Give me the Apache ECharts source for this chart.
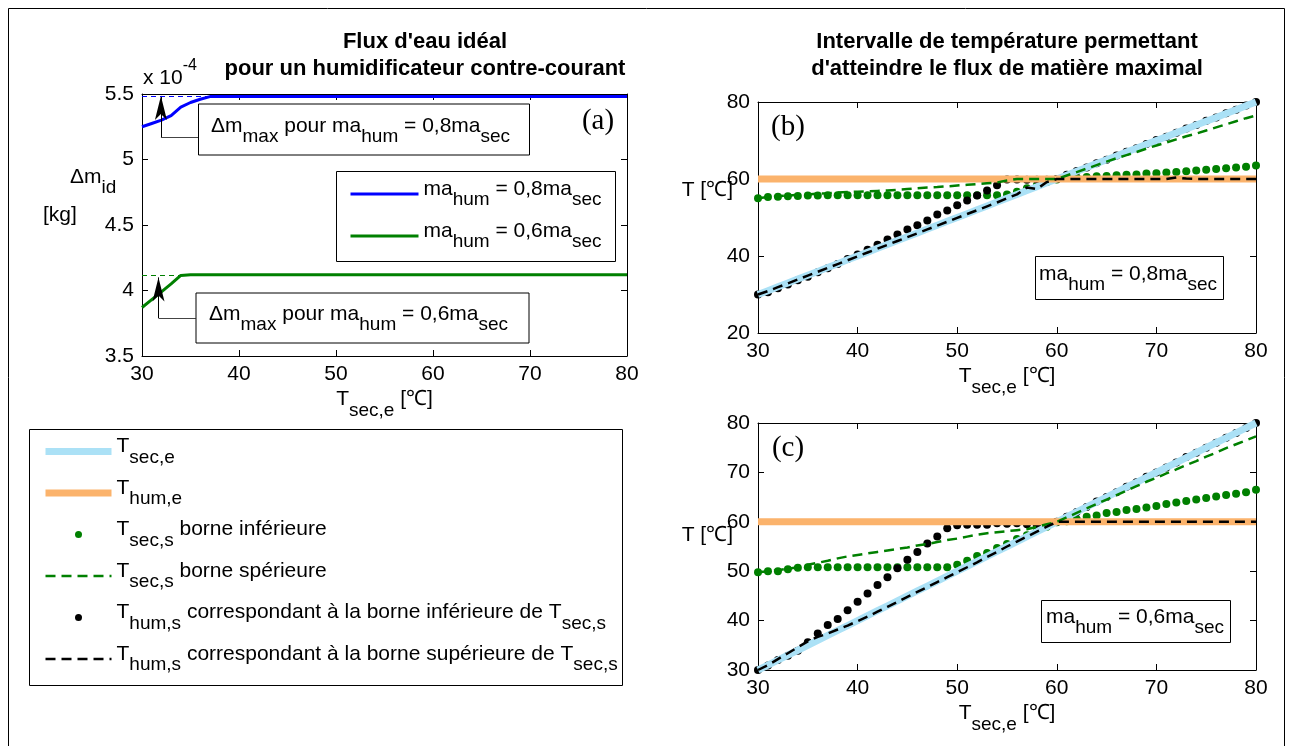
<!DOCTYPE html>
<html>
<head>
<meta charset="utf-8">
<script src="https://cdn.jsdelivr.net/npm/echarts/dist/echarts.min.js"></script>
<style>
html,body{margin:0;padding:0;background:#ffffff;}
#chart{width:1292px;height:746px;}
</style>
</head>
<body>
<div id="chart"></div>
<script>
// ================= DATA =================
// x variable for every panel: T_sec,e [°C]
const tSecE = [30,31,32,33,34,35,36,37,38,39,40,41,42,43,44,45,46,47,48,49,50,51,52,53,54,55,56,57,58,59,60,61,62,63,64,65,66,67,68,69,70,71,72,73,74,75,76,77,78,79,80];

// panel (a): ideal water flux  (x 1e-4 kg)
const dm08 = [5.250,5.275,5.300,5.335,5.400,5.435,5.460,5.480,5.480,5.480,
              5.480,5.480,5.480,5.480,5.480,5.480,5.480,5.480,5.480,5.480,
              5.480,5.480,5.480,5.480,5.480,5.480,5.480,5.480,5.480,5.480,
              5.480,5.480,5.480,5.480,5.480,5.480,5.480,5.480,5.480,5.480,
              5.480,5.480,5.480,5.480,5.480,5.480,5.480,5.480,5.480,5.480,
              5.480];
const dm06 = [3.870,3.930,3.990,4.050,4.115,4.120,4.120,4.120,4.120,4.120,
              4.120,4.120,4.120,4.120,4.120,4.120,4.120,4.120,4.120,4.120,
              4.120,4.120,4.120,4.120,4.120,4.120,4.120,4.120,4.120,4.120,
              4.120,4.120,4.120,4.120,4.120,4.120,4.120,4.120,4.120,4.120,
              4.120,4.120,4.120,4.120,4.120,4.120,4.120,4.120,4.120,4.120,
              4.120];
const dmMax08 = 5.48;
const dmMax06 = 4.12;

// T_hum,e constant
const tHumE = 60;

// panel (b): ma_hum = 0,8 ma_sec
const bSecOutLow  = [55.0,55.3,55.4,55.5,55.6,55.7,55.7,55.8,55.8,55.8,
                     55.8,55.8,55.8,55.8,55.8,55.8,55.8,55.8,55.8,55.8,
                     55.8,55.8,55.8,55.8,55.8,56.0,56.7,57.6,58.4,59.2,
                     59.9,60.3,60.4,60.5,60.7,60.8,61.0,61.1,61.2,61.4,
                     61.5,61.7,61.8,62.0,62.2,62.4,62.6,62.8,63.0,63.2,
                     63.5];
const bSecOutHigh = [55.0,55.3,55.5,55.7,55.9,56.0,56.2,56.3,56.5,56.6,
                     56.7,56.8,56.9,57.0,57.2,57.4,57.6,57.8,57.9,58.1,
                     58.3,58.5,58.7,58.9,59.1,59.6,60.0,60.0,60.0,60.0,
                     60.0,60.9,61.8,62.7,63.6,64.5,65.4,66.2,67.0,67.9,
                     68.7,69.5,70.3,71.1,71.8,72.6,73.4,74.2,75.0,75.8,
                     76.5];
const bHumOutLow  = [30.0,30.6,31.6,32.6,33.7,34.6,35.8,36.8,37.9,39.2,
                     40.4,41.6,42.9,44.3,45.6,46.9,48.0,49.2,50.8,51.8,
                     53.2,54.4,55.7,57.0,58.4,59.9,59.9,59.8,59.8,59.8,
                     60.0,61.1,62.1,63.0,64.1,65.0,66.1,67.1,68.0,69.1,
                     70.1,71.0,72.0,73.1,74.0,75.1,76.0,77.1,78.0,79.1,
                     80.0];
const bHumOutHigh = [30.0,30.9,31.9,32.9,33.9,34.9,35.9,36.9,37.9,38.9,
                     39.9,40.9,41.9,42.9,43.9,44.9,45.9,46.9,47.9,48.9,
                     49.9,50.9,51.9,52.9,53.9,55.0,56.0,57.8,57.4,59.2,
                     60.0,60.0,60.0,60.0,60.0,60.0,60.0,60.0,60.0,60.0,
                     60.0,60.0,60.4,60.1,60.0,60.0,60.0,60.0,60.0,60.0,
                     60.0];

// panel (c): ma_hum = 0,6 ma_sec
const cSecOutLow  = [49.8,50.0,50.0,50.4,50.7,50.8,50.8,50.8,50.8,50.8,
                     50.8,50.8,50.8,50.8,50.8,50.8,50.8,50.8,50.8,50.8,
                     51.3,52.1,53.1,53.7,54.7,55.5,56.5,57.3,58.3,59.0,
                     59.9,60.1,60.5,61.0,61.3,61.8,62.0,62.4,62.6,62.9,
                     63.2,63.6,63.9,64.2,64.5,64.8,65.1,65.4,65.7,66.0,
                     66.5];
const cSecOutHigh = [49.8,50.0,50.2,50.5,50.8,51.3,51.7,52.1,52.6,53.0,
                     53.3,53.6,53.9,54.2,54.5,54.8,55.2,55.5,55.9,56.3,
                     56.6,57.0,57.4,57.7,57.9,58.1,58.3,58.5,59.0,59.5,
                     60.0,60.9,61.8,62.7,63.6,64.5,65.4,66.3,67.2,68.1,
                     68.9,69.8,70.6,71.5,72.3,73.2,74.0,74.9,75.7,76.5,
                     77.3];
const cHumOutLow  = [30.0,30.9,32.0,32.9,33.9,35.6,37.4,39.1,40.3,42.1,
                     43.8,45.5,47.2,48.8,50.6,52.3,53.9,55.6,57.0,58.7,
                     59.3,59.4,59.4,59.4,59.7,59.6,59.7,59.5,59.3,59.2,
                     60.0,61.0,62.0,63.0,64.1,65.0,66.0,67.1,68.0,69.1,
                     70.0,71.0,72.0,73.1,74.0,75.0,76.0,77.0,78.0,79.0,
                     80.0];
const cHumOutHigh = [30.0,31.0,32.2,33.4,34.6,35.8,36.7,37.4,38.2,39.0,
                     39.9,40.8,41.8,42.8,43.8,44.8,45.8,46.8,47.8,48.8,
                     49.8,50.8,51.8,52.9,53.9,55.0,56.0,57.0,58.0,59.0,
                     60.0,60.0,60.0,60.0,60.0,60.0,60.0,60.0,60.0,60.0,
                     60.0,60.0,60.0,60.0,60.0,60.0,60.0,60.0,60.0,60.0,
                     60.0];

// ================= STYLE / LAYOUT =================
const FONT = '"Liberation Sans", Arial, Helvetica, sans-serif';
const SERIF = '"Liberation Serif", "Times New Roman", serif';
const C_LBLUE = '#ABE1F6', C_ORANGE = '#FBB36C', C_GREEN = '#008000', C_BLUE = '#0000FF';

const pairs = (xs, ys) => xs.map((x, i) => [x, Array.isArray(ys) ? ys[i] : ys]);

const RE = (m, s, P) => ({
  m: {fontSize: m, fontFamily: FONT, color: '#000', verticalAlign: 'bottom', padding: [0,0,P,0]},
  s: {fontSize: s, fontFamily: FONT, color: '#000', verticalAlign: 'bottom'}
});
const RZ = (m, s, P) => ({
  m: {fontSize: m, fontFamily: FONT, fill: '#000', verticalAlign: 'bottom', padding: [0,0,P,0]},
  s: {fontSize: s, fontFamily: FONT, fill: '#000', verticalAlign: 'bottom'},
  p: {fontSize: 16, fontFamily: FONT, fill: '#000', verticalAlign: 'top'},
  u: {fontSize: 21, fontFamily: FONT, fill: '#000', verticalAlign: 'bottom', padding: [10,0,0,0]}
});

function axis(gridIndex, position, min, max, interval, showLabel, extra) {
  return Object.assign({
    type: 'value', gridIndex, position, min, max, interval,
    axisLine: {show: true, onZero: false, lineStyle: {color: '#000', width: 1}},
    axisTick: {show: true, inside: true, length: 6, lineStyle: {color: '#000', width: 1}},
    axisLabel: {show: showLabel, color: '#000', fontSize: 21, fontFamily: FONT, margin: 8},
    splitLine: {show: false}
  }, extra || {});
}
const xName = {
  name: '{m|T}{s|sec,e}{m| [℃]}',
  nameLocation: 'middle', nameGap: 33,
  nameTextStyle: {rich: RE(21, 19, 10)}
};

// annotation arrows of panel (a), in data units
const ANN = {
  a08: {x: 31.95, y0: 5.17, yTip: 5.485, xBox: 35.8, refTo: 37},
  a06: {x: 31.7,  y0: 3.79, yTip: 4.10, xBox: 35.55, refTo: 34}
};
function annot(a, ref, color) {
  return {
    silent: true, symbol: ['none', 'none'], label: {show: false},
    emphasis: {disabled: true},
    lineStyle: {color: '#000', width: 1, type: 'solid'},
    data: [
      [{coord: [a.x, a.y0]}, {coord: [a.x, a.yTip], symbol: 'arrow', symbolSize: [9, 24]}],
      [{coord: [a.x, a.y0], lineStyle: {color: '#444', width: 1, type: 'solid'}}, {coord: [a.xBox, a.y0]}],
      [{coord: [30, ref], lineStyle: {color: color, width: 1, type: [5, 4]}}, {coord: [a.refTo, ref]}]
    ]
  };
}

function panelSeries(k, secLow, secHigh, humLow, humHigh) {
  const xi = 2 * k, yi = 2 * k;
  const base = {xAxisIndex: xi, yAxisIndex: yi, emphasis: {disabled: true}, silent: true};
  return [
    Object.assign({name: 'Tsec,e', type: 'line', data: pairs(tSecE, tSecE), symbol: 'none',
      lineStyle: {color: C_LBLUE, width: 7}, itemStyle: {color: C_LBLUE}}, base),
    Object.assign({name: 'Thum,e', type: 'line', data: pairs(tSecE, tHumE), symbol: 'none',
      lineStyle: {color: C_ORANGE, width: 7}, itemStyle: {color: C_ORANGE}}, base),
    Object.assign({name: 'TsecLow', type: 'scatter', data: pairs(tSecE, secLow), symbol: 'circle',
      symbolSize: 8, itemStyle: {color: C_GREEN, opacity: 1}}, base),
    Object.assign({name: 'TsecHigh', type: 'line', data: pairs(tSecE, secHigh), symbol: 'none',
      lineStyle: {color: C_GREEN, width: 2.5, type: [10, 6]}, itemStyle: {color: C_GREEN}}, base),
    Object.assign({name: 'ThumLow', type: 'scatter', data: pairs(tSecE, humLow), symbol: 'circle',
      symbolSize: 8, itemStyle: {color: '#000', opacity: 1}}, base),
    Object.assign({name: 'ThumHigh', type: 'line', data: pairs(tSecE, humHigh), symbol: 'none',
      lineStyle: {color: '#000', width: 2.5, type: [10, 6]}, itemStyle: {color: '#000'}}, base)
  ];
}

const LEG = {
  'Tsec,e':  '{m|T}{s|sec,e}',
  'Thum,e':  '{m|T}{s|hum,e}',
  'TsecLow': '{m|T}{s|sec,s}{m| borne inférieure}',
  'TsecHigh':'{m|T}{s|sec,s}{m| borne spérieure}',
  'ThumLow': '{m|T}{s|hum,s}{m| correspondant à la borne inférieure de T}{s|sec,s}',
  'ThumHigh':'{m|T}{s|hum,s}{m| correspondant à la borne supérieure de T}{s|sec,s}',
  'a08': '{m|ma}{s|hum}{m| = 0,8ma}{s|sec}',
  'a06': '{m|ma}{s|hum}{m| = 0,6ma}{s|sec}'
};
const noDot = name => ({name, itemStyle: {opacity: 0}});

function txt(x, y, text, font, align, extra) {
  return Object.assign({type: 'text', x, y, z: 20, silent: true,
    style: {text, font, fill: '#000', align: align || 'left', verticalAlign: 'middle'}}, extra || {});
}
function richTxt(x, y, text, align) {
  return {type: 'text', x, y, z: 20, silent: true,
    style: {text, rich: RZ(21, 19, 10), fill: '#000', font: '21px ' + FONT, align: align || 'left', verticalAlign: 'middle'}};
}
function box(x, y, w, h, z) {
  return {type: 'rect', z: z || 10, silent: true, shape: {x, y, width: w, height: h},
    style: {fill: '#fff', stroke: '#000', lineWidth: 1}};
}

const option = {
  animation: false,
  backgroundColor: '#ffffff',
  grid: [
    {left: 142, top: 94, width: 485, height: 262},
    {left: 758, top: 102, width: 498, height: 231},
    {left: 758, top: 423, width: 498, height: 247}
  ],
  xAxis: [
    axis(0, 'bottom', 30, 80, 10, true, xName),
    axis(0, 'top', 30, 80, 10, false),
    axis(1, 'bottom', 30, 80, 10, true, xName),
    axis(1, 'top', 30, 80, 10, false),
    axis(2, 'bottom', 30, 80, 10, true, xName),
    axis(2, 'top', 30, 80, 10, false)
  ],
  yAxis: [
    axis(0, 'left', 3.5, 5.5, 0.5, true),
    axis(0, 'right', 3.5, 5.5, 0.5, false),
    axis(1, 'left', 20, 80, 20, true),
    axis(1, 'right', 20, 80, 20, false),
    axis(2, 'left', 30, 80, 10, true),
    axis(2, 'right', 30, 80, 10, false)
  ],
  legend: [
    {
      data: [noDot('Tsec,e'), noDot('Thum,e'), 'TsecLow', noDot('TsecHigh'), 'ThumLow', noDot('ThumHigh')],
      orient: 'vertical', left: 42, top: 436, padding: 0,
      itemWidth: 66, itemHeight: 7, itemGap: 10.5,
      selectedMode: false,
      formatter: n => LEG[n],
      textStyle: {rich: RE(21, 19, 10)},
      lineStyle: {width: 'inherit'}
    },
    {
      data: [noDot('a08'), noDot('a06')],
      orient: 'vertical', left: 349, top: 178.5, padding: 0,
      itemWidth: 68, itemHeight: 4, itemGap: 11,
      selectedMode: false,
      formatter: n => LEG[n],
      textStyle: {rich: RE(21, 19, 10)},
      lineStyle: {width: 'inherit'}
    }
  ],
  series: [
    {name: 'a08', type: 'line', xAxisIndex: 0, yAxisIndex: 0, data: pairs(tSecE, dm08), symbol: 'none',
     lineStyle: {color: C_BLUE, width: 3}, itemStyle: {color: C_BLUE}, emphasis: {disabled: true}, silent: true,
     markLine: annot(ANN.a08, dmMax08, C_BLUE)},
    {name: 'a06', type: 'line', xAxisIndex: 0, yAxisIndex: 0, data: pairs(tSecE, dm06), symbol: 'none',
     lineStyle: {color: C_GREEN, width: 3}, itemStyle: {color: C_GREEN}, emphasis: {disabled: true}, silent: true,
     markLine: annot(ANN.a06, dmMax06, C_GREEN)},
    ...panelSeries(1, bSecOutLow, bSecOutHigh, bHumOutLow, bHumOutHigh),
    ...panelSeries(2, cSecOutLow, cSecOutHigh, cHumOutLow, cHumOutHigh)
  ],
  graphic: [
    {type: 'rect', z: 0, silent: true, shape: {x: 8.5, y: 8.5, width: 1276, height: 745},
     style: {fill: 'none', stroke: '#000', lineWidth: 1}},
    txt(425, 42, "Flux d'eau idéal", 'bold 22px ' + FONT, 'center'),
    txt(425, 69, 'pour un humidificateur contre-courant', 'bold 22px ' + FONT, 'center'),
    txt(1007, 42, 'Intervalle de température permettant', 'bold 22px ' + FONT, 'center'),
    txt(1007, 69, "d'atteindre le flux de matière maximal", 'bold 22px ' + FONT, 'center'),
    {type: 'text', x: 143, y: 73, z: 20, silent: true,
     style: {text: '{u|x 10}{p|-4}', rich: RZ(21, 19, 10), font: '21px ' + FONT, align: 'left', verticalAlign: 'middle'}},
    richTxt(70, 182, '{m|Δm}{s|id}'),
    txt(43, 215, '[kg]', '21px ' + FONT, 'left'),
    txt(733, 190, 'T [℃]', '21px ' + FONT, 'right'),
    txt(733, 535, 'T [℃]', '21px ' + FONT, 'right'),
    txt(598, 121, '(a)', '29px ' + SERIF, 'center'),
    txt(788, 127, '(b)', '29px ' + SERIF, 'center'),
    txt(788, 448, '(c)', '29px ' + SERIF, 'center'),
    box(198.5, 104, 331, 51),
    richTxt(211, 131, '{m|Δm}{s|max}{m| pour ma}{s|hum}{m| = 0,8ma}{s|sec}'),
    box(196, 293, 333, 50),
    richTxt(209, 319, '{m|Δm}{s|max}{m| pour ma}{s|hum}{m| = 0,6ma}{s|sec}'),
    box(1035.5, 256.5, 188, 43),
    richTxt(1039, 279, '{m|ma}{s|hum}{m| = 0,8ma}{s|sec}'),
    box(1041.5, 600.5, 189, 42),
    richTxt(1046, 622, '{m|ma}{s|hum}{m| = 0,6ma}{s|sec}'),
    box(336.5, 171.5, 279, 90, 3),
    box(29.5, 429.5, 593, 256, 3)
  ]
};

const chart = echarts.init(document.getElementById('chart'), null, {renderer: 'canvas'});
chart.setOption(option);
</script>
</body>
</html>
